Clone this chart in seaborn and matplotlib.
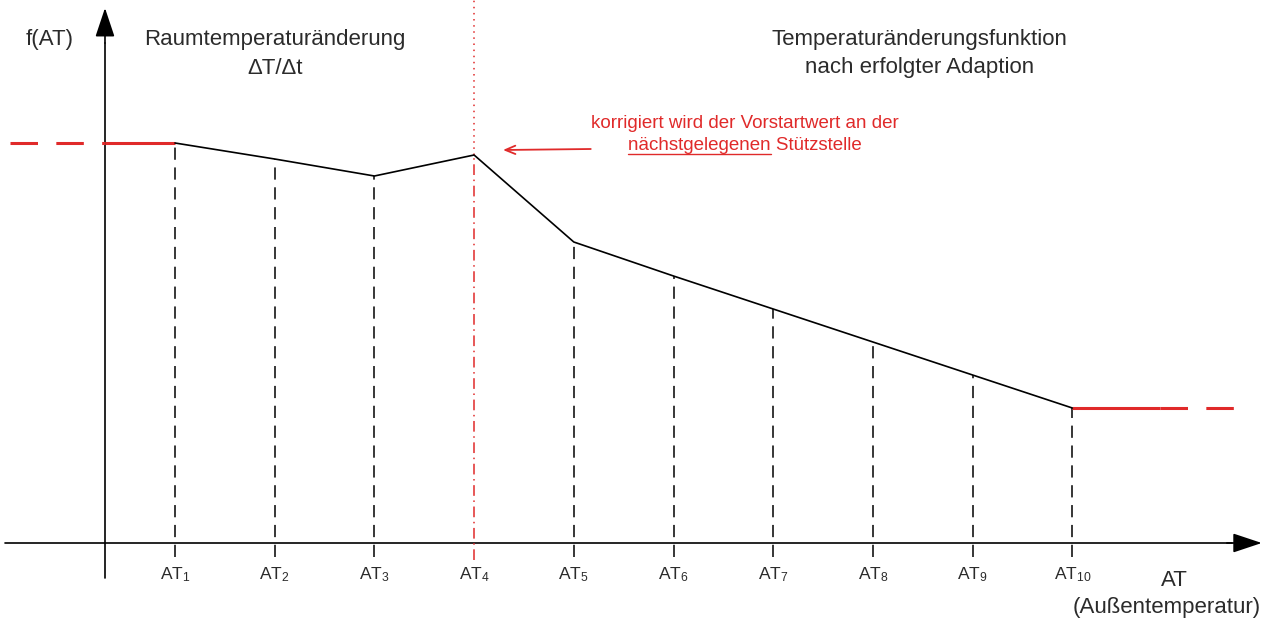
import matplotlib
matplotlib.use("Agg")
import matplotlib.pyplot as plt
import numpy as np
import pandas as pd
import seaborn as sns

# Stützstellen AT1..AT10 and f(AT) after adaption
at_index = [1, 2, 3, 4, 5, 6, 7, 8, 9, 10]
at_labels = ["AT$_{%d}$" % i for i in at_index]
f_values = [4.00, 3.84, 3.67, 3.88, 3.01, 2.67, 2.34, 2.01, 1.68, 1.35]
corrected_point = 4  # AT4 is the corrected support point

sns.set_style("white")
plt.rcParams["font.family"] = ["Liberation Sans", "DejaVu Sans"]
plt.rcParams["mathtext.default"] = "regular"

RED = "#e02a2a"
TXT = "#2b2b2b"

fig = plt.figure(figsize=(12.82, 6.21), dpi=100)
ax = fig.add_axes([0, 0, 1, 1])
ax.set_xlim(-0.755, 12.103)
ax.set_ylim(-0.78, 5.43)
ax.axis("off")

df = pd.DataFrame({"AT": at_index, "f": f_values})

# axes with arrows
y_axis_x = 0.298
ax.plot([y_axis_x, y_axis_x], [-0.35, 5.0], color="black", lw=1.2)
ax.annotate("", xy=(y_axis_x, 5.35), xytext=(y_axis_x, 5.0),
            arrowprops=dict(arrowstyle="-|>,head_length=0.9,head_width=0.3",
                            mutation_scale=20, color="black", lw=1.2,
                            shrinkA=0, shrinkB=0))
ax.plot([-0.705, 11.6], [0, 0], color="black", lw=1.2)
ax.annotate("", xy=(11.90, 0), xytext=(11.55, 0),
            arrowprops=dict(arrowstyle="-|>,head_length=0.9,head_width=0.3",
                            mutation_scale=20, color="black", lw=1.2,
                            shrinkA=0, shrinkB=0))

# dashed verticals at the support points
for x, y in zip(at_index, f_values):
    if x == corrected_point:
        continue
    ax.plot([x, x], [-0.14, y], color="black", lw=1.1, dashes=(8, 5))

# corrected point: red dotted above, dash-dot below
ax.plot([corrected_point, corrected_point], [f_values[3], 5.43],
        color=RED, lw=1.1, dashes=(1, 3))
ax.plot([corrected_point, corrected_point], [-0.17, f_values[3]],
        color=RED, lw=1.1, dashes=(7, 3, 1, 3))

# red extensions left and right
ax.plot([y_axis_x, 1], [f_values[0]] * 2, color=RED, lw=2.2, solid_capstyle="butt")
ax.plot([-0.655, y_axis_x], [f_values[0]] * 2, color=RED, lw=2.2, dashes=(9, 6))
ax.plot([10, 10.88], [f_values[-1]] * 2, color=RED, lw=2.2, solid_capstyle="butt")
ax.plot([10.88, 11.73], [f_values[-1]] * 2, color=RED, lw=2.2, dashes=(9, 6))

# the function itself
sns.lineplot(data=df, x="AT", y="f", ax=ax, color="black", lw=1.2,
             legend=False)
ax.axis("off")

# tick labels
for x, lab in zip(at_index, at_labels):
    ax.text(x, -0.32, lab, ha="center", va="center", fontsize=12.5, color=TXT)

ax.text(-0.254, 5.03, "f(AT)", ha="center", va="center", fontsize=16, color=TXT)
ax.text(2.003, 5.03, "Raumtemperaturänderung", ha="center", va="center",
        fontsize=16, color=TXT)
ax.text(2.003, 4.74, "ΔT/Δt", ha="center", va="center", fontsize=16, color=TXT)
ax.text(8.47, 5.03, "Temperaturänderungsfunktion", ha="center", va="center",
        fontsize=16, color=TXT)
ax.text(8.47, 4.75, "nach erfolgter Adaption", ha="center", va="center",
        fontsize=16, color=TXT)
ax.text(11.02, -0.37, "AT", ha="center", va="center", fontsize=16, color=TXT)
ax.text(10.95, -0.64, "(Außentemperatur)", ha="center", va="center",
        fontsize=16, color=TXT)

# annotation
ax.annotate("", xy=(4.29, 3.93), xytext=(5.17, 3.94),
            arrowprops=dict(arrowstyle="->,head_length=0.6,head_width=0.25",
                            mutation_scale=12, color=RED, lw=1.3,
                            shrinkA=0, shrinkB=0))
ax.text(6.72, 4.19, "korrigiert wird der Vorstartwert an der", ha="center",
        va="center", fontsize=13.5, color=RED)
t2 = ax.text(6.72, 3.97, "nächstgelegenen Stützstelle", ha="center",
             va="center", fontsize=13.5, color=RED)
fig.canvas.draw()
r = fig.canvas.get_renderer()
bb = t2.get_window_extent(renderer=r).transformed(ax.transData.inverted())
probe = ax.text(bb.x0, 3.97, "nächstgelegenen", ha="left", va="center",
                fontsize=13.5, color="none")
pb = probe.get_window_extent(renderer=r).transformed(ax.transData.inverted())
probe.remove()
ax.plot([pb.x0, pb.x1], [bb.y0 + 0.01, bb.y0 + 0.01], color=RED, lw=1.0)

fig.savefig("out.png", dpi=100)
